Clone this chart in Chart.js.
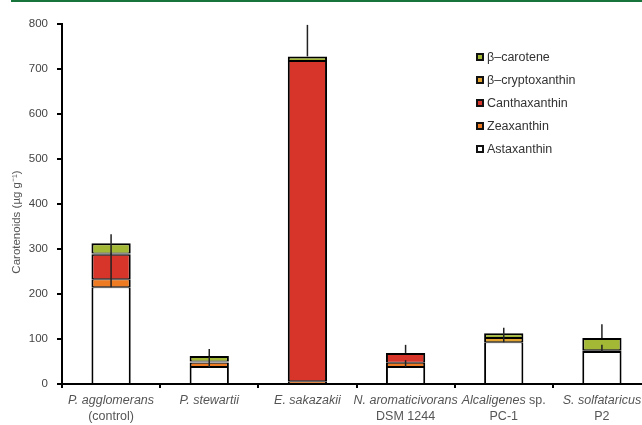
<!DOCTYPE html>
<html>
<head>
<meta charset="utf-8">
<script src="https://cdn.jsdelivr.net/npm/chart.js@4/dist/chart.umd.min.js"></script>
<style>
  html, body { margin: 0; padding: 0; background: #fff; overflow: hidden; }
  #band { position: absolute; left: 11px; top: 0; width: 640px; height: 2px; background: #17743a; }
  #wrap { position: absolute; left: 0; top: 0; width: 660px; height: 425px; }
</style>
</head>
<body>
<div id="band"></div>
<div id="wrap"><canvas id="c" width="660" height="425"></canvas></div>
<script>
// Strains (x categories)
const categories = ['P. agglomerans (control)', 'P. stewartii', 'E. sakazakii',
  'N. aromaticivorans DSM 1244', 'Alcaligenes sp. PC-1', 'S. solfataricus P2'];

// Axis label lines: each part is [text, italic]
const categoryLabelLines = [
  [[['P. agglomerans', true]], [['(control)', false]]],
  [[['P. stewartii', true]]],
  [[['E. sakazakii', true]]],
  [[['N. aromaticivorans', true]], [['DSM 1244', false]]],
  [[['Alcaligenes', true], [' sp.', false]], [['PC-1', false]]],
  [[['S. solfataricus', true]], [['P2', false]]]
];

// Carotenoid content (µg g⁻¹), stacked bottom to top
const astaxanthin     = [215, 38,   0, 38, 93, 71];
const zeaxanthin      = [ 18,  9,   6,  9,  0,  0];
const canthaxanthin   = [ 54,  1, 712, 22,  0,  0];
const cryptoxanthin   = [  3,  2,   0,  0,  9,  4];
const betaCarotene    = [ 23, 12,  10,  0, 11, 27];

// Error bar lengths drawn upward from each segment top
const astaxanthinErr   = [75, 22, 0, 15, 20, 16];
const canthaxanthinErr = [26,  0, 0,  0,  0,  0];
const totalErr         = [20, 16, 70, 18, 12, 31];

const yTicks = [0, 100, 200, 300, 400, 500, 600, 700, 800];

const seriesNames = ['Astaxanthin', 'Zeaxanthin', 'Canthaxanthin', 'β–cryptoxanthin', 'β–carotene'];
const seriesColors = ['#ffffff', '#ee7a22', '#d8352a', '#e2a42e', '#a3b935'];
const seriesValues = [astaxanthin, zeaxanthin, canthaxanthin, cryptoxanthin, betaCarotene];
const seriesErrors = [astaxanthinErr, null, canthaxanthinErr, null, null];

const FONT = '"Liberation Sans", Arial, sans-serif';

// index of the highest non-empty segment in each stack
function topSeries(j) {
  let t = -1;
  seriesValues.forEach((v, i) => { if (v[j] > 0) t = i; });
  return t;
}
function bottomSeries(j) {
  for (let i = 0; i < seriesValues.length; i++) if (seriesValues[i][j] > 0) return i;
  return -1;
}

const datasets = seriesValues.map((vals, i) => ({
  label: seriesNames[i],
  data: vals,
  backgroundColor: seriesColors[i],
  borderColor: '#000',
  borderWidth: (ctx) => {
    const j = ctx.dataIndex;
    if (!(vals[j] > 0)) return 0;
    return {
      left: 2, right: 2,
      top: topSeries(j) === i ? 2 : 1,
      bottom: bottomSeries(j) === i ? 0 : 1
    };
  },
  borderSkipped: false,
  categoryPercentage: 1.0,
  barPercentage: 0.4
}));

const decorations = {
  id: 'decorations',
  afterDatasetsDraw(chart) {
    const ctx = chart.ctx;
    const x = chart.scales.x, y = chart.scales.y;
    ctx.save();
    ctx.strokeStyle = '#222';
    ctx.lineWidth = 1.5;
    categories.forEach((c, j) => {
      const cx = x.getPixelForValue(j);
      let cum = 0;
      seriesValues.forEach((vals, i) => {
        cum += vals[j];
        const e = seriesErrors[i];
        if (e && e[j] > 0) {
          ctx.beginPath();
          ctx.moveTo(cx, y.getPixelForValue(cum));
          ctx.lineTo(cx, y.getPixelForValue(cum + e[j]));
          ctx.stroke();
        }
      });
      ctx.beginPath();
      ctx.moveTo(cx, y.getPixelForValue(cum));
      ctx.lineTo(cx, y.getPixelForValue(cum + totalErr[j]));
      ctx.stroke();
    });
    ctx.restore();
  },
  afterDraw(chart) {
    const ctx = chart.ctx;
    const x = chart.scales.x;
    ctx.save();
    // category labels with mixed italic / upright parts
    ctx.fillStyle = '#555';
    ctx.textBaseline = 'middle';
    const lf = '12.5px ' + FONT;
    categoryLabelLines.forEach((lines, j) => {
      const cx = x.getPixelForValue(j);
      lines.forEach((parts, k) => {
        const ly = 401 + k * 16;
        let w = 0;
        parts.forEach(([t, it]) => { ctx.font = (it ? 'italic ' : '') + lf; w += ctx.measureText(t).width; });
        let sx = cx - w / 2;
        ctx.textAlign = 'left';
        parts.forEach(([t, it]) => {
          ctx.font = (it ? 'italic ' : '') + lf;
          ctx.fillText(t, sx, ly);
          sx += ctx.measureText(t).width;
        });
      });
    });
    // y-axis title
    ctx.save();
    ctx.translate(17, 222);
    ctx.rotate(-Math.PI / 2);
    ctx.textAlign = 'center';
    ctx.font = '11.5px ' + FONT;
    ctx.fillStyle = '#555';
    ctx.fillText('Carotenoids (µg g⁻¹)', 0, 0);
    ctx.restore();
    // legend, top series first
    const order = [4, 3, 2, 1, 0];
    order.forEach((i, k) => {
      const ly = 57 + k * 23;
      ctx.fillStyle = '#111';
      ctx.fillRect(476, ly - 4, 8, 8);
      ctx.fillStyle = seriesColors[i];
      ctx.fillRect(478, ly - 2, 4, 4);
      ctx.fillStyle = '#333';
      ctx.font = '12.5px ' + FONT;
      ctx.textAlign = 'left';
      ctx.fillText(seriesNames[i], 487, ly + 0.5);
    });
    ctx.restore();
  }
};

new Chart(document.getElementById('c'), {
  type: 'bar',
  data: { labels: categories, datasets },
  options: {
    responsive: false,
    animation: false,
    layout: { padding: { top: 24, right: 9, left: 0, bottom: 0 } },
    plugins: { legend: { display: false }, tooltip: { enabled: false } },
    scales: {
      x: {
        stacked: true,
        offset: true,
        ticks: { display: false },
        grid: { display: true, offset: true, drawOnChartArea: false, drawTicks: true, tickLength: 4, color: '#000', lineWidth: 2 },
        border: { display: true, color: '#000', width: 2 },
        afterFit(s) { s.height = 41; }
      },
      y: {
        stacked: true,
        min: 0, max: 800,
        afterBuildTicks(s) { s.ticks = yTicks.map(v => ({ value: v })); },
        ticks: { color: '#444', font: { family: FONT, size: 11.5 }, padding: 9 },
        grid: { drawOnChartArea: false, drawTicks: true, tickLength: 5, color: '#000', lineWidth: 2 },
        border: { display: true, color: '#000', width: 2 },
        afterFit(s) { s.width = 62; }
      }
    }
  },
  plugins: [decorations]
});
</script>
</body>
</html>
